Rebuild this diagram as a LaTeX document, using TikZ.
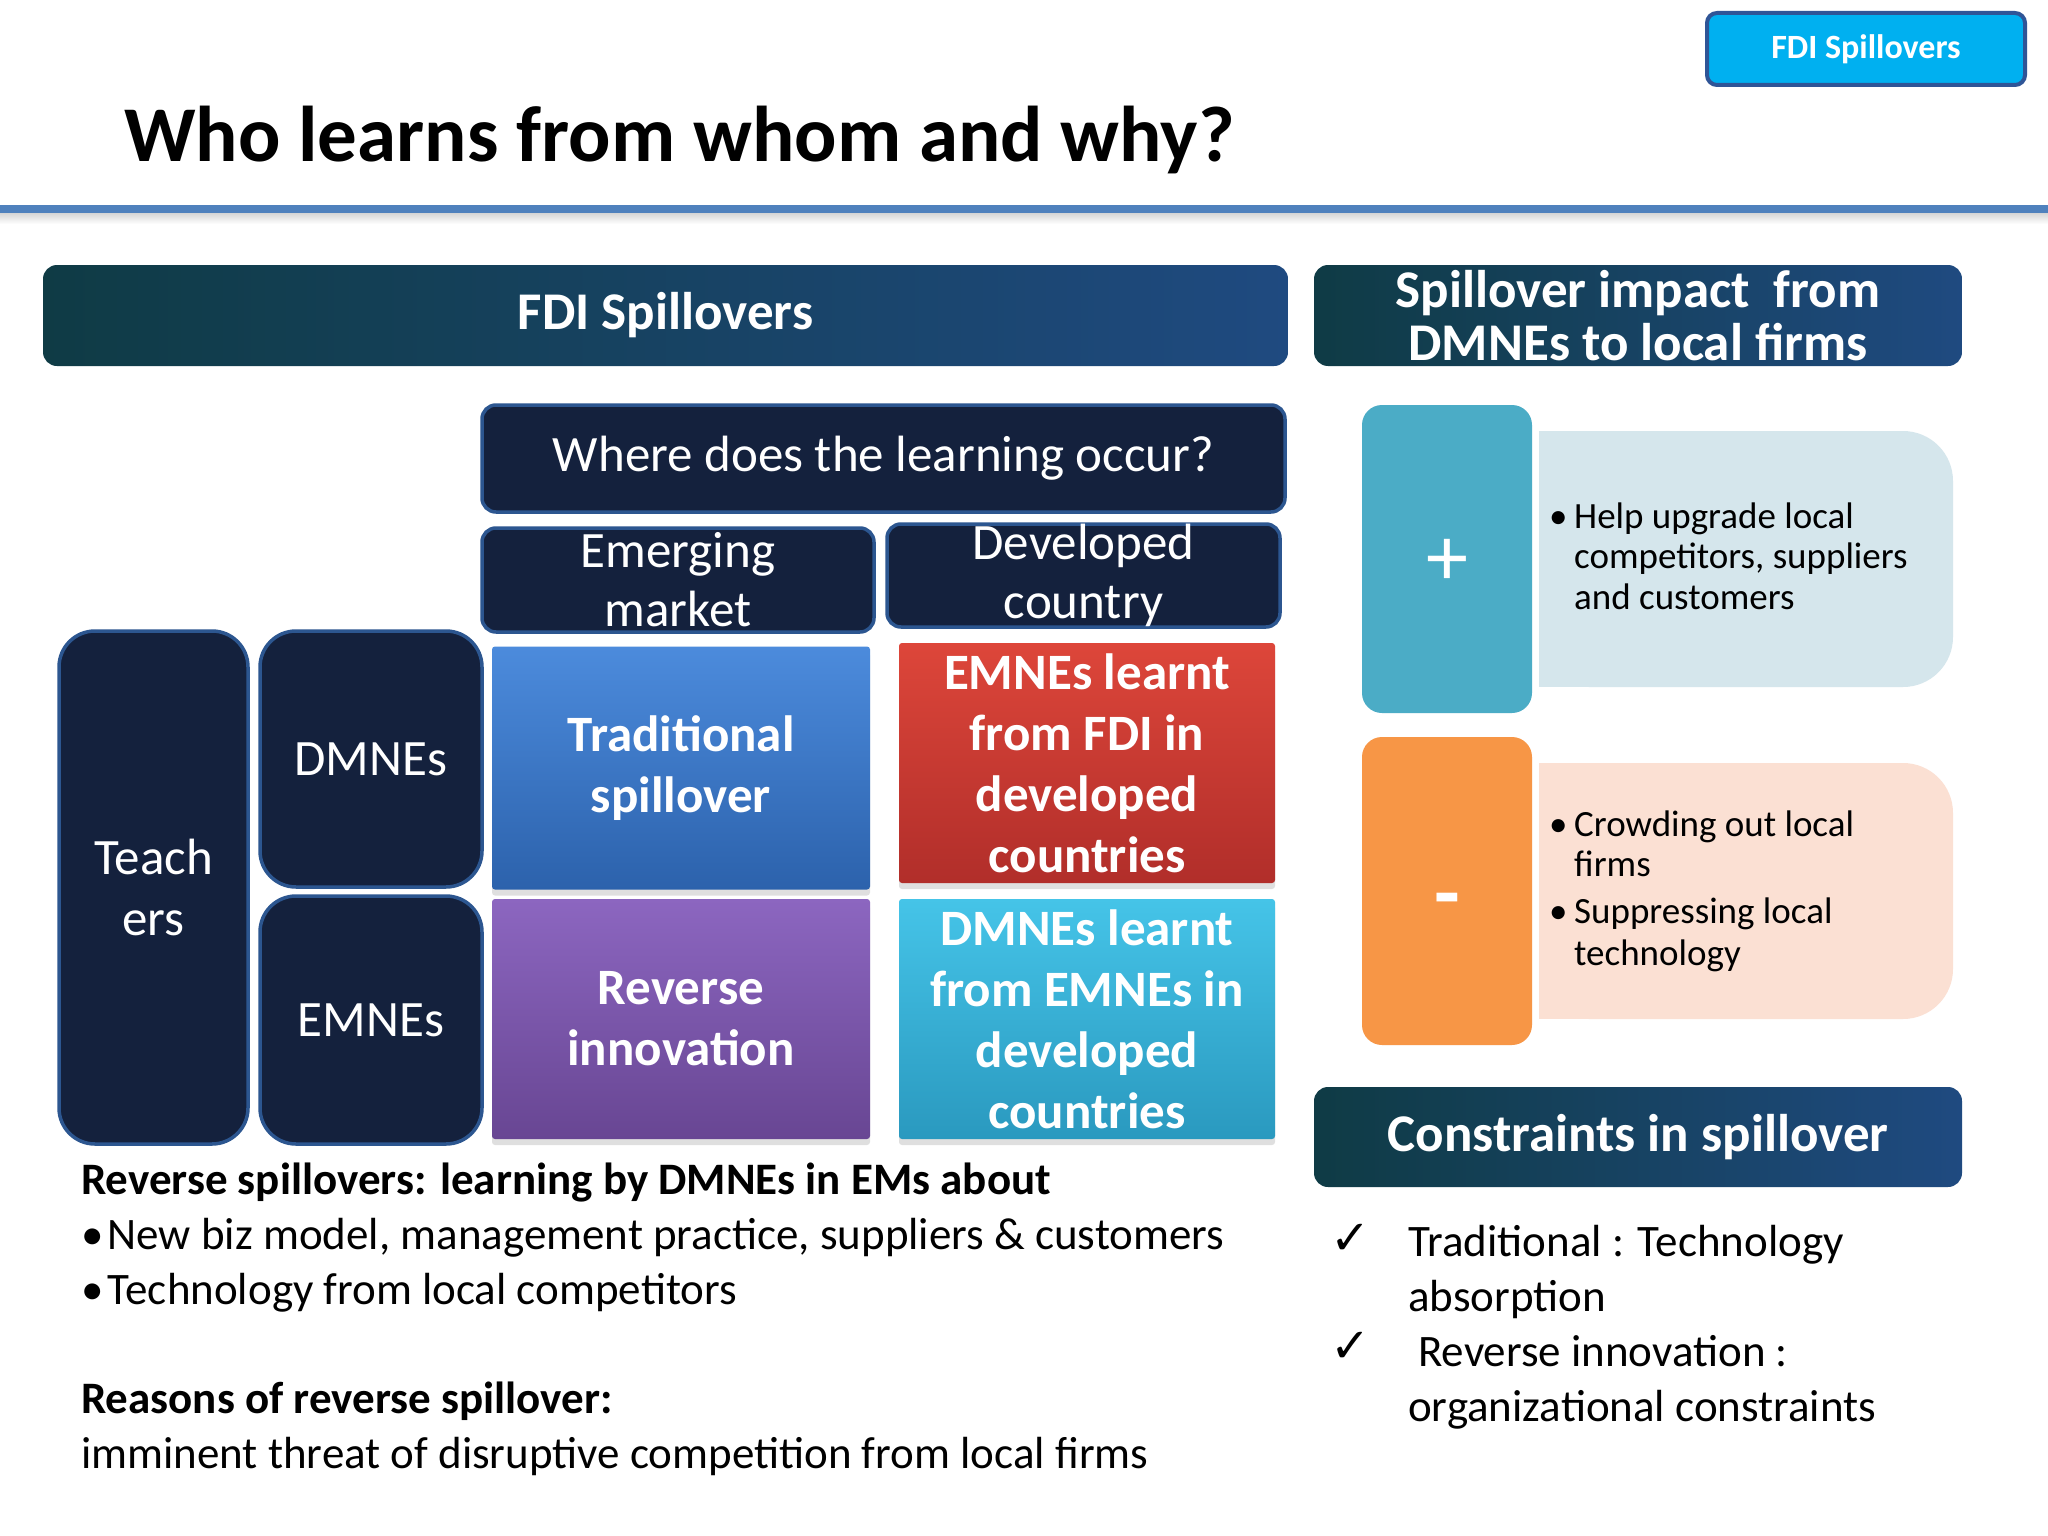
\documentclass[tikz,border=0pt]{standalone}
\usepackage{fontspec}
\setmainfont{Carlito}
\newfontfamily\symfont{DejaVu Sans}
\usetikzlibrary{shadows}
\definecolor{navy}{HTML}{14213D}
\definecolor{navyedge}{HTML}{2C5690}
\definecolor{hdrL}{HTML}{0F3B45}
\definecolor{hdrR}{HTML}{1F4A80}
\definecolor{btn}{HTML}{00B0F0}
\definecolor{btnedge}{HTML}{2F5597}
\definecolor{ruleblue}{HTML}{4F81BD}
\definecolor{tradT}{HTML}{4C8BDC}
\definecolor{tradB}{HTML}{2C62AC}
\definecolor{redT}{HTML}{DD463A}
\definecolor{redB}{HTML}{B12E2A}
\definecolor{purT}{HTML}{8C66C0}
\definecolor{purB}{HTML}{684693}
\definecolor{cyaT}{HTML}{45C4E8}
\definecolor{cyaB}{HTML}{2A99BF}
\definecolor{plusc}{HTML}{4BACC6}
\definecolor{minusc}{HTML}{F79646}
\definecolor{ltblue}{HTML}{D5E6EC}
\definecolor{peach}{HTML}{FBE0D3}

\begin{document}
\begin{tikzpicture}[x=1pt,y=-1pt,
  every node/.style={inner sep=0pt},
  navybox/.style={draw=navyedge, line width=3.5pt, fill=navy, rounded corners=14pt,
    text=white, align=center, font=\fontsize{51}{59}\selectfont},
  sidebox/.style={navybox, rounded corners=36pt, font=\fontsize{51}{61}\selectfont},
  hdrbar/.style={left color=hdrL, right color=hdrR, rounded corners=14pt,
    text=white, align=center, font=\bfseries\fontsize{53}{53}\selectfont},
  cell/.style={rounded corners=3pt, text=white, align=center,
    font=\bfseries\fontsize{51}{61}\selectfont,
    drop shadow={opacity=0.25, shadow xshift=0pt, shadow yshift=-6pt}},
  signbox/.style={rounded corners=20pt, minimum width=170pt, minimum height=308pt},
  signtext/.style={text=white, font=\fontsize{84}{90}\selectfont},
  bodytext/.style={anchor=base west, font=\fontsize{45}{55}\selectfont},
  smalltext/.style={anchor=base west, font=\fontsize{37}{40}\selectfont},
  checkmk/.style={anchor=base west, font=\symfont\fontsize{48}{50}\selectfont}]
\useasboundingbox (0,0) rectangle (2048,1536);
\fill[white] (0,0) rectangle (2048,1536);

% title area
\node (btn) [draw=btnedge, line width=4pt, fill=btn, rounded corners=10pt, text=white,
  minimum width=318pt, minimum height=72pt, font=\bfseries\fontsize{34}{36}\selectfont]
  at (1866,49) {FDI Spillovers};
\node (title) [anchor=base west, font=\bfseries\fontsize{79}{100}\selectfont]
  at (124,161) {Who learns from whom and why?};
\shade[top color=black!18, bottom color=white] (0,212) rectangle (2048,224);
\fill[ruleblue] (0,205) rectangle (2048,213);

% header bars
\node (fdi) [hdrbar, minimum width=1245pt, minimum height=101pt] at (665.5,315.5) {FDI Spillovers};
\node (impact) [hdrbar, minimum width=648pt, minimum height=101pt] at (1638,315.5)
  {Spillover impact\ \ from\\DMNEs to local firms};

% where / columns
\node (where) [navybox, minimum width=803pt, minimum height=107pt] at (883.5,458.5)
  {Where does the learning occur?};
\node (emerg) [navybox, minimum width=392pt, minimum height=104pt] at (678,580)
  {Emerging\\market};
\node (devel) [navybox, minimum width=393pt, minimum height=103pt] at (1083.5,575.5)
  {Developed\\country};

% rows
\node (teach) [sidebox, minimum width=189pt, minimum height=513pt] at (153.5,887.5) {Teach\\ers};
\node (dmne) [sidebox, minimum width=222pt, minimum height=256pt] at (371,759) {DMNEs};
\node (emne) [sidebox, minimum width=222pt, minimum height=248pt] at (371,1020) {EMNEs};

% grid
\node (trad) [cell, top color=tradT, bottom color=tradB, minimum width=378pt, minimum height=243pt]
  at (681,768) {Traditional\\spillover};
\node (emlearn) [cell, top color=redT, bottom color=redB, minimum width=376pt, minimum height=240pt]
  at (1087,763) {EMNEs learnt\\from FDI in\\developed\\countries};
\node (rev) [cell, top color=purT, bottom color=purB, minimum width=378pt, minimum height=240pt]
  at (681,1019) {Reverse\\innovation};
\node (dmlearn) [cell, top color=cyaT, bottom color=cyaB, minimum width=376pt, minimum height=240pt]
  at (1087,1019) {DMNEs learnt\\from EMNEs in\\developed\\countries};

% impact boxes
\fill[ltblue, rounded corners=50pt] (1539,431) rectangle (1953,687);
\fill[ltblue] (1539,431) rectangle (1750,687);
\fill[peach, rounded corners=50pt] (1539,763) rectangle (1953,1019);
\fill[peach] (1539,763) rectangle (1750,1019);
\node (plus) [signbox, fill=plusc] at (1447,559) {};
\node (plussign) [signtext] at (1447,562) {+};
\node (minus) [signbox, fill=minusc] at (1447,891) {};
\node (minussign) [signtext, font=\bfseries\fontsize{84}{90}\selectfont] at (1447,907) {-};

\node (up0) [smalltext] at (1549,528) {•};
\node (up1) [smalltext] at (1574,528) {Help upgrade local};
\node (up2) [smalltext] at (1574,568) {competitors, suppliers};
\node (up3) [smalltext] at (1574,609) {and customers};
\node (cr0) [smalltext] at (1549,836) {•};
\node (cr1) [smalltext] at (1574,836) {Crowding out local};
\node (cr2) [smalltext] at (1574,876) {firms};
\node (sp0) [smalltext] at (1549,923) {•};
\node (sp1) [smalltext] at (1574,923) {Suppressing local};
\node (sp2) [smalltext] at (1574,965) {technology};

% constraints
\node (constr) [hdrbar, minimum width=648pt, minimum height=100pt] at (1638,1137) {Constraints in spillover};
\node (ck1) [checkmk] at (1330,1254) {✓};
\node (c1a) [bodytext] at (1408,1256) {Traditional : Technology};
\node (c1b) [bodytext] at (1408,1311) {absorption};
\node (ck2) [checkmk] at (1330,1362) {✓};
\node (c2a) [bodytext] at (1418,1366) {Reverse innovation :};
\node (c2b) [bodytext] at (1408,1421) {organizational constraints};

% reverse spillover notes
\node (rs0) [bodytext, font=\bfseries\fontsize{45}{55}\selectfont] at (81,1194)
  {Reverse spillovers: learning by DMNEs in EMs about};
\node (rs1) [bodytext] at (81,1249) {•\hspace{4pt}New biz model, management practice, suppliers \& customers};
\node (rs2) [bodytext] at (81,1304) {•\hspace{4pt}Technology from local competitors};
\node (rr0) [bodytext, font=\bfseries\fontsize{45}{55}\selectfont] at (81,1413)
  {Reasons of reverse spillover:};
\node (rr1) [bodytext] at (81,1468) {imminent threat of disruptive competition from local firms};
\end{tikzpicture}
\end{document}
